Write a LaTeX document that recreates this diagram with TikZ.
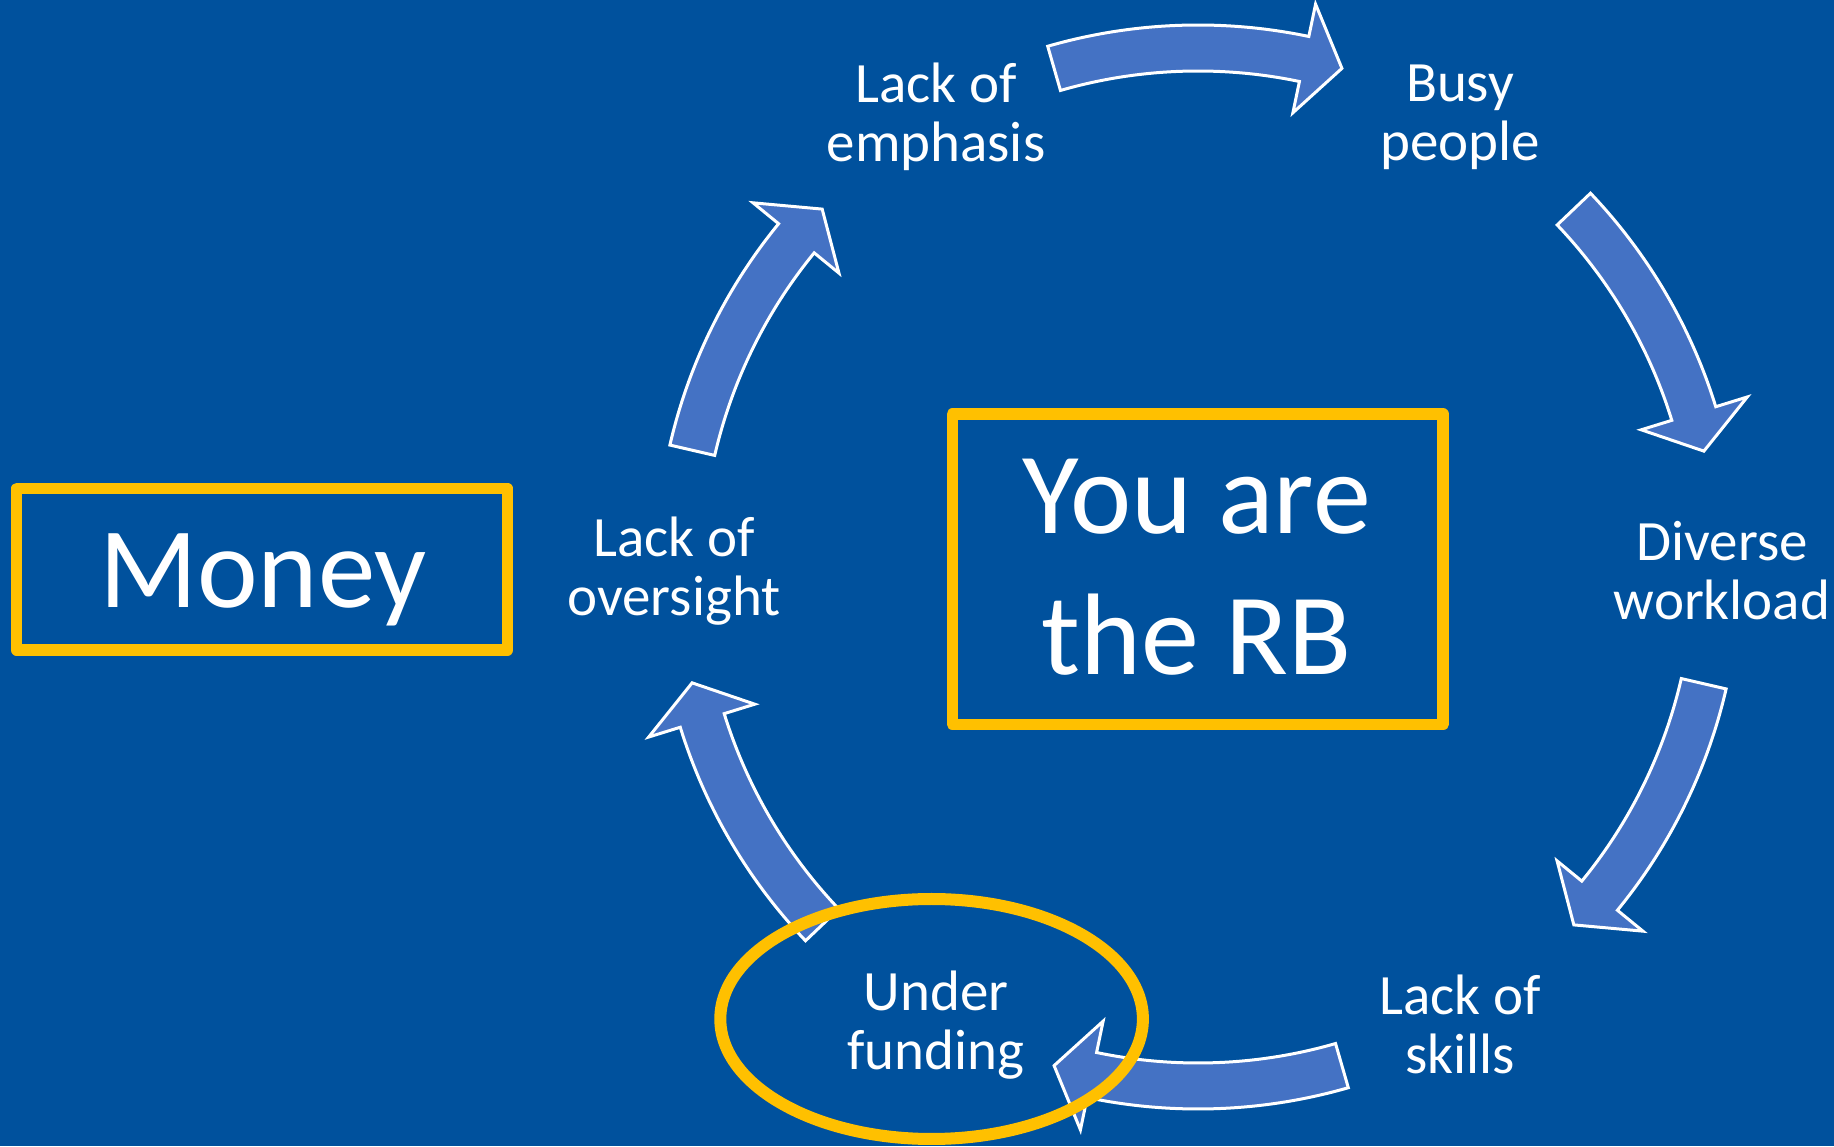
\documentclass[tikz,border=0pt]{standalone}
\usepackage{fontspec}
\setmainfont{Carlito}
\usetikzlibrary{calc}
\definecolor{bgblue}{RGB}{0,81,157}
\definecolor{arrowblue}{RGB}{68,114,196}
\definecolor{gold}{RGB}{255,192,0}
\newcommand{\cyclearrow}[2]{%
  \pgfmathsetmacro{\arrHeadAng}{#2+4.3}%
  \draw[cyclearrowstyle] ($(C)+(#1:542)$) arc[start angle=#1, end angle=\arrHeadAng, radius=542pt]
    -- ($(C)+(\arrHeadAng:575)$) -- ($(C)+(#2:519)$) -- ($(C)+(\arrHeadAng:464)$)
    -- ($(C)+(\arrHeadAng:496)$) arc[start angle=\arrHeadAng, end angle=#1, radius=496pt] -- cycle;}
\begin{document}
\begin{tikzpicture}[x=1pt,y=1pt,
  cyclearrowstyle/.style={fill=arrowblue, draw=white, line width=3pt, line join=miter},
  cyclelabel/.style={text=white, align=center, inner sep=0pt, yshift=-4pt, font=\fontsize{57}{59}\selectfont},
  goldbox/.style={draw=gold, line width=11.5pt, line join=round},
  bigtext/.style={text=white, align=center, inner sep=0pt}]
\useasboundingbox (0,0) rectangle (1834,1146);
\fill[bgblue] (0,0) rectangle (1834,1146);
\coordinate (C) at (1198,579);
% arrows (clockwise)
\cyclearrow{106.1}{73.9}
\cyclearrow{43.6}{12.9}
\cyclearrow{-13.0}{-43.6}
\cyclearrow{-73.9}{-106.1}
\cyclearrow{-136.4}{-167.1}
\cyclearrow{167.0}{136.4}
% labels
\node[cyclelabel] (emph) at ($(C)+(120:524)$) {Lack of\\emphasis};
\node[cyclelabel] (busy) at ($(C)+(60:524)$) {Busy\\people};
\node[cyclelabel] (diverse) at ($(C)+(0:524)$) {Diverse\\workload};
\node[cyclelabel] (skills) at ($(C)+(-60:524)$) {Lack of\\skills};
\node[cyclelabel] (under) at ($(C)+(-120:524)$) {Under\\funding};
\node[cyclelabel] (oversight) at ($(C)+(180:524)$) {Lack of\\oversight};
% highlight ellipse
\draw[draw=gold, line width=12pt] (931.6,127) ellipse[x radius=211.3pt, y radius=120pt];
% boxes
\draw[goldbox] (16.7,496) rectangle (507.5,657.5);
\node[bigtext, anchor=base, font=\fontsize{115}{140}\selectfont] (money) at (263,538.3) {Money};
\draw[goldbox] (952.3,421.7) rectangle (1443.2,731.8);
\node[bigtext, font=\fontsize{116}{141}\selectfont] (rb) at (1196.5,578.8) {You are\\the RB};
\end{tikzpicture}
\end{document}
